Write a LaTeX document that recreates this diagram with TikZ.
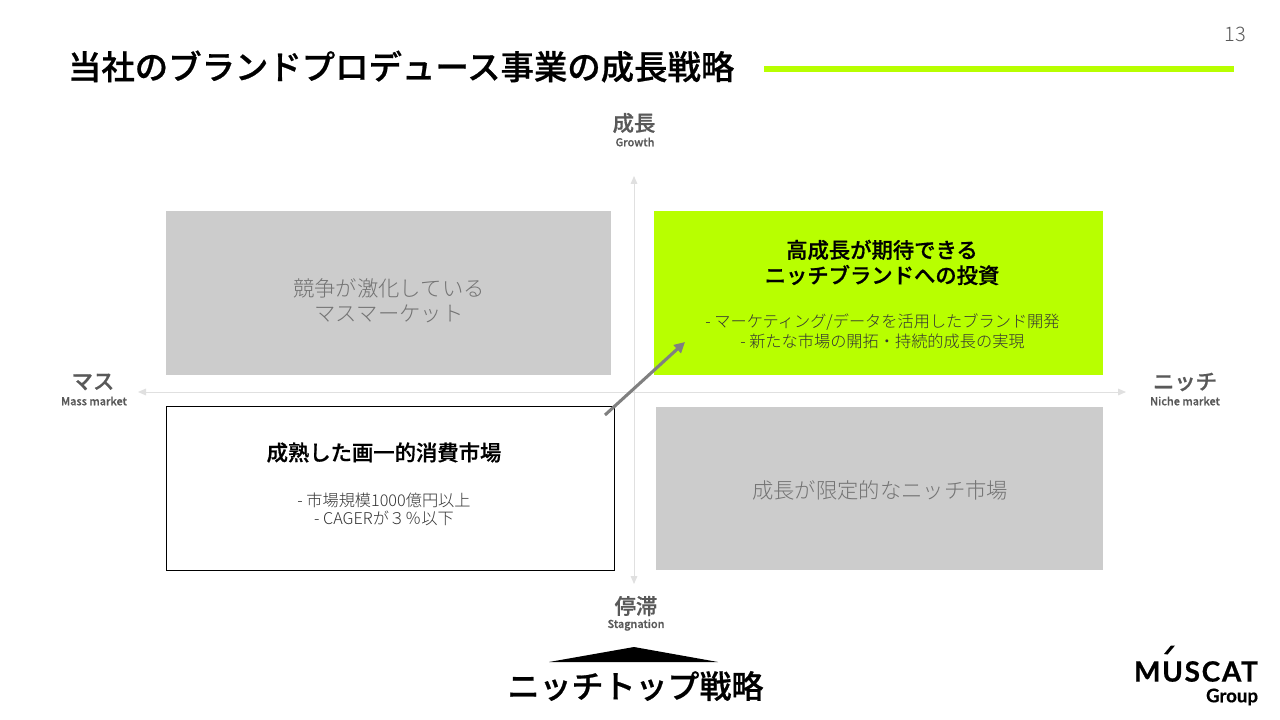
\documentclass[tikz,border=0pt]{standalone}
\usepackage{fontspec}
\setmainfont{Noto Sans CJK JP}
\newfontfamily\medfont[FakeBold=0.7]{Noto Sans CJK JP Medium}
\newfontfamily\lightfont{Noto Sans CJK JP Light}
\newfontfamily\logofont[FakeBold=0.6]{Lato Bold}
\usetikzlibrary{arrows.meta}
\newcommand{\fs}[1]{\fontsize{#1}{#1}\selectfont}
\definecolor{lime}{HTML}{B8FF00}
\definecolor{boxgray}{HTML}{CCCCCC}
\definecolor{labelgray}{HTML}{595959}
\definecolor{axisgray}{HTML}{E0E0E0}
\tikzset{
  x=0.75pt,y=-0.75pt,
  every node/.style={inner sep=0pt,outer sep=0pt,align=center},
  quad/.style={fill=boxgray,draw=none,anchor=north west},
  mutetext/.style={text=black!55,font=\lightfont\fs{16}},
  headtext/.style={text=black,font=\medfont\fs{16}},
  bodytext/.style={text=black!80,font=\lightfont\fs{12.15}},
  axislabel/.style={text=labelgray,font=\medfont\fs{16}},
  axissub/.style={text=labelgray,font=\medfont\fs{8.2}},
  axisline/.style={draw=axisgray,line width=0.75pt,{Triangle[length=6pt,width=5pt]}-{Triangle[length=6pt,width=5pt]}},
}
\begin{document}
\begin{tikzpicture}
\useasboundingbox (0,0) rectangle (1280,720);
\fill[white] (0,0) rectangle (1280,720);
% title
\node[anchor=west,font=\medfont\fs{25.05}] (title) at (68,66.5) {当社のブランドプロデュース事業の成長戦略};
\node[text=black!65,font=\lightfont\fs{15}] (page) at (1235,34) {13};
\fill[lime] (764,66.5) rectangle (1234,72);
% quadrants
\node[quad,minimum width=445*0.75pt,minimum height=164*0.75pt] (tl) at (166,211) {};
\node[quad,fill=lime,minimum width=449*0.75pt,minimum height=164*0.75pt] (tr) at (654,211) {};
\node[quad,fill=white,draw=black,line width=0.9pt,minimum width=448*0.75pt,minimum height=164*0.75pt] (bl) at (166.5,406.5) {};
\node[quad,minimum width=447*0.75pt,minimum height=163*0.75pt] (br) at (656,407) {};
% axes
\coordinate (axL) at (138,392);
\coordinate (axR) at (1126,392);
\coordinate (axT) at (634,176);
\coordinate (axB) at (634,584);
\draw[axisline] (axL) -- (axR);
\draw[axisline] (axT) -- (axB);
% quadrant texts
\node[mutetext] (tltext) at (389,300.5) {競争が激化している\\[3pt]マスマーケット};
\node[mutetext] (brtext) at (880,490.5) {成長が限定的なニッチ市場};
\node[headtext] (trhead) at (882,262.5) {高成長が期待できる\\[3pt]ニッチブランドへの投資};
\node[bodytext] (trbody) at (882.5,331.5) {- マーケティング/データを活用したブランド開発\\[1.5pt]- 新たな市場の開拓・持続的成長の実現};
\node[headtext] (blhead) at (384,452.5) {成熟した画一的消費市場};
\node[bodytext] (blbody) at (384,509) {- 市場規模1000億円以上\\[1.5pt]- CAGERが３％以下};
% axis labels
\node[axislabel] (grow) at (634,123) {成長};
\node[axissub] (growe) at (635,142) {Growth};
\node[axislabel] (stag) at (636,606) {停滞};
\node[axissub] (stage) at (636,625) {Stagnation};
\node[axislabel] (mass) at (93,382) {マス};
\node[axissub] (masse) at (94,401) {Mass market};
\node[axislabel] (nich) at (1185,382) {ニッチ};
\node[axissub] (niche) at (1185,401) {Niche market};
% diagonal arrow
\coordinate (dgA) at (605,415);
\coordinate (dgB) at (685,342);
\draw[draw=black!50,line width=2.3pt,-{Triangle[length=8pt,width=8pt]}] (dgA) -- (dgB);
% strategy
\fill[black] (549,662) -- (634,647) -- (718,662) -- cycle;
\node[font=\medfont\fs{24}] (strategy) at (635.5,686) {ニッチトップ戦略};
% logo
\node[anchor=west,font=\logofont\fs{21}] (logo) at (1134,671.5) {\addfontfeature{LetterSpace=6}MUSCAT};
\fill[black] (1164,654) -- (1171,645.5) -- (1175,645.5) -- (1167.5,654.5) -- cycle;
\node[anchor=east,font=\logofont\fs{14}] (logog) at (1258,697) {Group};
\end{tikzpicture}
\end{document}
